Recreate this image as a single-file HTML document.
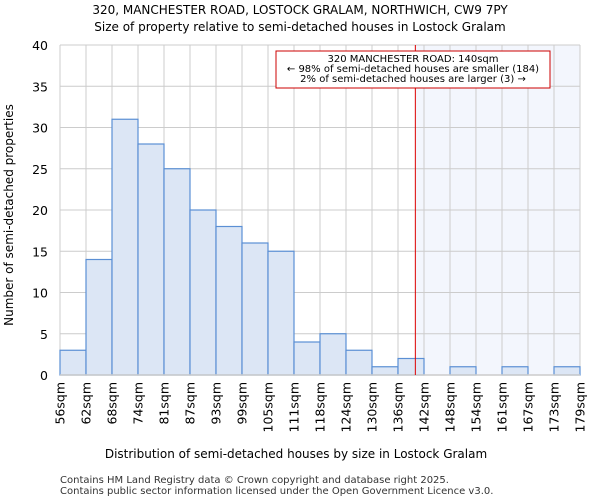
<!DOCTYPE html>
<html><head><meta charset="utf-8"><style>
body{margin:0;background:#fff;font-family:"DejaVu Sans","Liberation Sans",sans-serif;}
</style></head><body>
<svg width="600" height="500" xmlns="http://www.w3.org/2000/svg" font-family="DejaVu Sans, Liberation Sans, sans-serif">
<text x="300" y="14" text-anchor="middle" font-size="12">320, MANCHESTER ROAD, LOSTOCK GRALAM, NORTHWICH, CW9 7PY</text>
<text x="300" y="31" text-anchor="middle" font-size="12">Size of property relative to semi-detached houses in Lostock Gralam</text>
<g id="plot"></g>
<text x="296" y="458" text-anchor="middle" font-size="12">Distribution of semi-detached houses by size in Lostock Gralam</text>
<text transform="translate(13,215) rotate(-90)" text-anchor="middle" font-size="12">Number of semi-detached properties</text>
<text x="60" y="483" font-size="10" fill="#333">Contains HM Land Registry data © Crown copyright and database right 2025.</text>
<text x="60" y="494" font-size="10" fill="#333">Contains public sector information licensed under the Open Government Licence v3.0.</text>
</svg>
<script>
const categories=["56sqm","62sqm","68sqm","74sqm","81sqm","87sqm","93sqm","99sqm","105sqm","111sqm","118sqm","124sqm","130sqm","136sqm","142sqm","148sqm","154sqm","161sqm","167sqm","173sqm","179sqm"];
const counts=[3,14,31,28,25,20,18,16,15,4,5,3,1,2,0,1,0,1,0,1];
const yTicks=[0,5,10,15,20,25,30,35,40];
const markerBin=13.667;
const ns="http://www.w3.org/2000/svg";
const g=document.getElementById('plot');
const L=60,R=580,T=45,B=375,yMax=40,n=counts.length;
const xs=i=>L+i*(R-L)/n;
const ys=v=>B-v*(B-T)/yMax;
function mk(t,a){const e=document.createElementNS(ns,t);for(const k in a)e.setAttribute(k,a[k]);g.appendChild(e);return e;}
let r=mk('rect',{x:xs(markerBin),y:T,width:R-xs(markerBin),height:B-T,fill:'#f3f6fd'});


yTicks.forEach(v=>{let l=mk('line',{x1:L,x2:R,y1:ys(v),y2:ys(v),stroke:'#ccc','stroke-width':1});


let t=mk('text',{x:L-12,y:ys(v)+5,'text-anchor':'end','font-size':12.5});t.textContent=v;

});
categories.forEach((c,i)=>{let l=mk('line',{x1:xs(i),x2:xs(i),y1:T,y2:B,stroke:'#ccc','stroke-width':1});


let t=mk('text',{transform:`translate(${xs(i)+4.5},${B+7}) rotate(-90)`,'text-anchor':'end','font-size':12.5});t.textContent=c;

});
counts.forEach((v,i)=>{if(v<=0)return;let b=mk('rect',{x:xs(i),y:ys(v),width:xs(i+1)-xs(i),height:B-ys(v),fill:'#dce6f5',stroke:'#5b8fd4','stroke-width':1.2});

});
let ax=mk('line',{x1:L,x2:R,y1:B,y2:B,stroke:'#ccc','stroke-width':1.5});


let ml=mk('line',{x1:xs(markerBin),x2:xs(markerBin),y1:T,y2:B,stroke:'#dd0000','stroke-width':1});


let box=mk('rect',{x:276,y:51,width:274,height:37,fill:'#fff',stroke:'#cc0000','stroke-width':1});


["320 MANCHESTER ROAD: 140sqm","← 98% of semi-detached houses are smaller (184)","2% of semi-detached houses are larger (3) →"].forEach((s,i)=>{let t=mk('text',{x:413,y:62+i*10,'text-anchor':'middle','font-size':10});t.textContent=s;

});
</script>
</body></html>
